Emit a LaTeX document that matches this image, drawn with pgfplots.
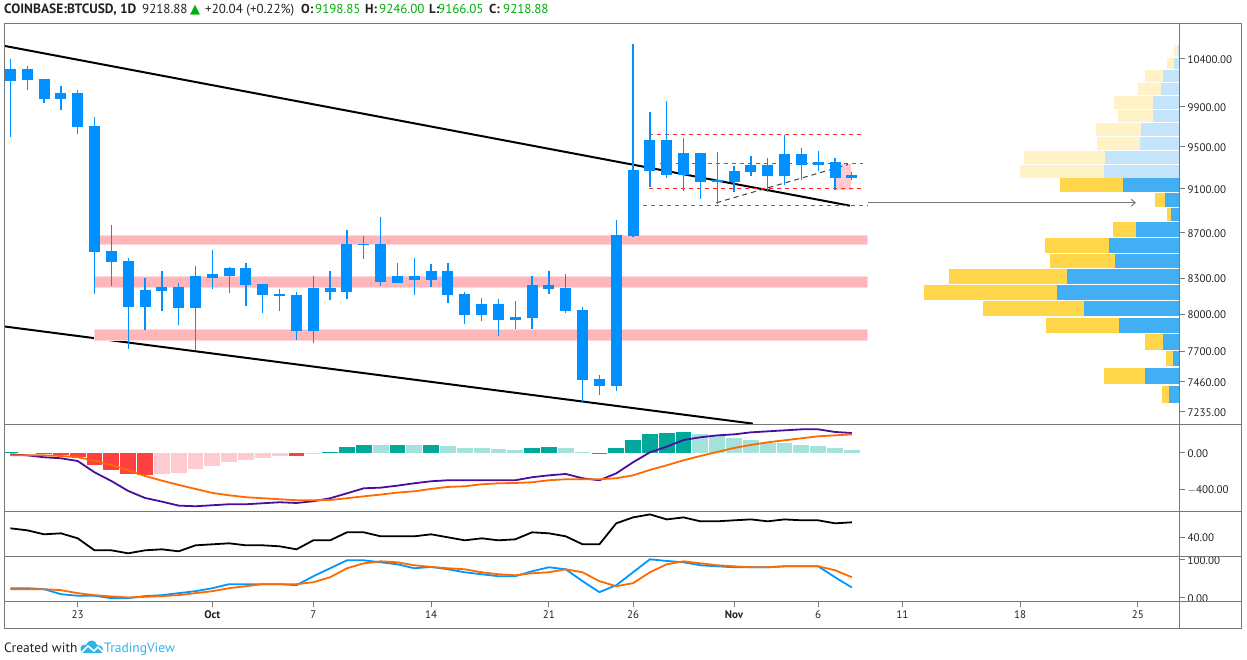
\documentclass[border=0pt]{standalone}
\usepackage{fontspec}
\usepackage{pgfplots}
\usepackage{pgfplotstable}
\pgfplotsset{compat=1.18}
\usetikzlibrary{arrows.meta}
\setmainfont{PT Sans}
\newfontfamily\symf{DejaVu Sans}
\definecolor{candle}{HTML}{0090FF}
\definecolor{frame}{HTML}{787878}
\definecolor{band}{HTML}{FFB6BA}
\definecolor{bandedge}{HTML}{FFD9DB}
\definecolor{purp}{HTML}{4A0E9E}
\definecolor{oran}{HTML}{FF6A00}
\definecolor{stochb}{HTML}{0098FF}
\definecolor{hred}{HTML}{FF4040}
\definecolor{hpink}{HTML}{FFCBD0}
\definecolor{hteal}{HTML}{00A99A}
\definecolor{hlteal}{HTML}{A6E2DC}
\definecolor{lyel}{HTML}{FFF2C6}
\definecolor{lblu}{HTML}{C3E4FA}
\definecolor{dyel}{HTML}{FFD54A}
\definecolor{dblu}{HTML}{42AFF5}
\definecolor{tvgreen}{HTML}{00AE0A}
\definecolor{tvtext}{HTML}{222222}
\definecolor{tvcyan}{HTML}{2CB6E8}

% i macd signal rsi stochk stochd
\pgfplotstableread{
i macd sig rsi k d
0 -15 -26 51.3 25.4 22.8
1 -26 -26 48.7 25.4 22.8
2 -47 -26 43.5 22.8 22.8
3 -58 -33 44.8 9.6 20.2
4 -88 -47 38.3 5.3 12.3
5 -212 -84 22.7 5.3 7.0
6 -307 -131 22.7 -0.9 3.5
7 -416 -190 18.8 -0.9 0.9
8 -493 -252 22.7 4.4 2.6
9 -533 -303 24.0 7.0 4.4
10 -577 -350 21.4 12.3 7.0
11 -584 -394 29.2 17.5 12.3
12 -573 -438 30.5 25.4 17.5
13 -562 -464 31.8 36.0 25.4
14 -562 -485 29.2 36.0 30.7
15 -551 -496 29.2 36.0 36.0
16 -540 -507 27.9 36.0 36.0
17 -548 -518 24.0 33.3 36.0
18 -529 -518 35.7 57.0 41.2
19 -496 -515 35.7 78.1 54.4
20 -442 -496 46.1 99.1 78.1
21 -387 -475 46.1 99.1 91.2
22 -380 -456 40.9 93.9 96.5
23 -358 -434 40.9 88.6 93.9
24 -332 -420 40.9 78.1 86.0
25 -310 -394 43.5 81.6 81.6
26 -299 -372 39.6 75.4 78.1
27 -299 -365 35.7 67.5 75.4
28 -299 -343 38.3 62.3 67.5
29 -299 -332 35.7 57.0 62.3
30 -299 -329 37.0 57.0 59.6
31 -266 -321 46.1 70.2 64.9
32 -245 -299 44.8 80.7 67.5
33 -230 -288 40.9 75.4 75.4
34 -277 -288 30.5 43.9 67.5
35 -299 -288 30.5 14.9 43.9
36 -223 -277 57.8 33.3 30.7
37 -102 -245 65.5 67.5 38.6
38 7 -186 69.4 101.8 67.5
39 69 -135 62.9 97.4 88.6
40 142 -80 65.5 93.9 96.5
41 172 -33 60.4 86.0 91.2
42 193 11 60.4 83.3 86.0
43 204 55 61.7 80.7 83.3
44 226 88 62.9 80.7 80.7
45 237 117 60.4 80.7 80.7
46 248 139 62.9 83.3 83.3
47 259 161 61.7 83.3 83.3
48 259 183 61.7 83.3 83.3
49 230 193 57.8 54.4 72.8
50 219 204 59.1 27.2 54.4
}\osc

% one candle: index, high, low, top of body, bottom of body
\newcommand{\cd}[5]{%
  \addplot[candle,line width=1.3pt] coordinates {(#1,#2)(#1,#3)};
  \addplot[candle,line width=11pt] coordinates {(#1,#4)(#1,#5)};
}
% volume profile row: low, high, up volume, total, colours
\newcommand{\vp}[6]{%
  \addplot[fill=#6,draw=none] coordinates {(#3,#1)(#4,#1)(#4,#2)(#3,#2)} -- cycle;
  \addplot[fill=#5,draw=none] coordinates {(0,#1)(#3,#1)(#3,#2)(0,#2)} -- cycle;
}

\pgfplotsset{
  pane/.style={
    scale only axis, width=1174.5pt,
    xmin=-0.35, xmax=69.44,
    axis line style={frame, line width=1pt},
    tick style={frame, line width=1pt},
    ytick pos=right, xtick pos=bottom, tick align=outside,
    major tick length=5.5pt,
    xtick=\empty,
    yticklabel style={font=\fontsize{11}{13}\selectfont, text=tvtext, anchor=west, inner sep=0pt, xshift=3pt, yshift=-0.7pt},
    xticklabel style={font=\fontsize{11}{13}\selectfont, text=tvtext, inner sep=0pt, yshift=-4pt},
  },
  tl/.style={line width=1.8pt},
  % the price scale is logarithmic
  logprice/.style={y coord trafo/.code={\pgfmathparse{ln(##1)}}},
}

\begin{document}
\begin{tikzpicture}[x=1pt,y=-1pt]
\path[use as bounding box] (0,0) rectangle (1247,659);

% ---- price pane
\begin{axis}[pane, logprice, at={(4.5pt,-424.5pt)}, anchor=south west, height=401pt,
  ymin=7141, ymax=10786.6,
  ytick={7235,7460,7700,8000,8300,8700,9100,9500,9900,10400},
  yticklabels={7235.00,7460.00,7700.00,8000.00,8300.00,8700.00,9100.00,9500.00,9900.00,10400.00}]
  % channel
  \addplot[black,line width=2pt] coordinates {(-0.32,10540)(49.89,8943)};
  \addplot[black,line width=2pt] coordinates {(-0.32,7898)(44.12,7147)};
  % support and resistance bands
  \addplot[fill=band,draw=bandedge,line width=1pt] coordinates {(5,8672)(50.93,8672)(50.93,8595)(5,8595)} -- cycle;
  \addplot[fill=band,draw=bandedge,line width=1pt] coordinates {(5,8315)(50.93,8315)(50.93,8225)(5,8225)} -- cycle;
  \addplot[fill=band,draw=bandedge,line width=1pt] coordinates {(5,7874)(50.93,7874)(50.93,7789)(5,7789)} -- cycle;
  \addplot[fill=hpink,draw=none] coordinates {(49,9339)(49.92,9339)(49.92,9092)(49,9092)} -- cycle;
  % dashed levels
  \addplot[red!85,line width=1pt,dash pattern=on 4pt off 4pt] coordinates {(37.94,9621)(50.69,9621)};
  \addplot[red!85,line width=1pt,dash pattern=on 4pt off 4pt] coordinates {(38.6,9343)(50.69,9343)};
  \addplot[red!85,line width=1pt,dash pattern=on 4pt off 4pt] coordinates {(37.94,9106)(50.69,9106)};
  \addplot[red!85,line width=1pt,dash pattern=on 4pt off 4pt] coordinates {(37.6,8947)(50.96,8947)};
  \addplot[black!75,line width=1pt,dash pattern=on 5pt off 4pt] coordinates {(41.95,8970)(49.77,9329)};
  \addplot[frame,line width=1pt,-{Straight Barb[length=4pt,width=7pt]}] coordinates {(50.96,8970)(66.88,8970)};
  % candles
  \cd{0}{10400}{9601}{10295}{10170}
  \cd{1}{10326}{10076}{10295}{10180}
  \cd{2}{10190}{9941}{10190}{9982}
  \cd{3}{10118}{9871}{10045}{9982}
  \cd{4}{10076}{9631}{10045}{9701}
  \cd{5}{9801}{8169}{9711}{8529}
  \cd{6}{8763}{8238}{8537}{8443}
  \cd{7}{8477}{7719}{8452}{8061}
  \cd{8}{8306}{7874}{8204}{8061}
  \cd{9}{8358}{8028}{8229}{8195}
  \cd{10}{8263}{7914}{8229}{8053}
  \cd{11}{8409}{7711}{8315}{8053}
  \cd{12}{8546}{8212}{8332}{8306}
  \cd{13}{8400}{8178}{8392}{8323}
  \cd{14}{8435}{8069}{8392}{8246}
  \cd{15}{8255}{8012}{8255}{8161}
  \cd{16}{8212}{8028}{8169}{8152}
  \cd{17}{8186}{7793}{8161}{7866}
  \cd{18}{8323}{7768}{8221}{7866}
  \cd{19}{8358}{8118}{8221}{8186}
  \cd{20}{8726}{8127}{8600}{8186}
  \cd{21}{8672}{8469}{8600}{8591}
  \cd{22}{8844}{8238}{8600}{8272}
  \cd{23}{8435}{8263}{8323}{8263}
  \cd{24}{8477}{8161}{8323}{8289}
  \cd{25}{8426}{8229}{8366}{8289}
  \cd{26}{8435}{8094}{8366}{8161}
  \cd{27}{8186}{7922}{8169}{7996}
  \cd{28}{8135}{7947}{8085}{7996}
  \cd{29}{8127}{7825}{8085}{7955}
  \cd{30}{8110}{7882}{7979}{7955}
  \cd{31}{8323}{7882}{8246}{7971}
  \cd{32}{8366}{8169}{8246}{8212}
  \cd{33}{8332}{8012}{8221}{8028}
  \cd{34}{8061}{7302}{8037}{7479}
  \cd{35}{7518}{7364}{7487}{7433}
  \cd{36}{8817}{7394}{8681}{7433}
  \cd{37}{10560}{8663}{9282}{8672}
  \cd{38}{9851}{9121}{9571}{9272}
  \cd{39}{9961}{9197}{9571}{9234}
  \cd{40}{9591}{9083}{9443}{9234}
  \cd{41}{9443}{9006}{9443}{9168}
  \cd{42}{9452}{8961}{9178}{9159}
  \cd{43}{9320}{9073}{9272}{9168}
  \cd{44}{9414}{9225}{9329}{9263}
  \cd{45}{9395}{9073}{9329}{9216}
  \cd{46}{9621}{9140}{9433}{9216}
  \cd{47}{9491}{9187}{9433}{9329}
  \cd{48}{9462}{9272}{9357}{9329}
  \cd{49}{9395}{9092}{9357}{9206}
  \cd{50}{9263}{9187}{9234}{9206}
\end{axis}

% ---- volume profile, on the same price scale
\begin{axis}[logprice, scale only axis, width=1174.5pt, height=401pt, at={(4.5pt,-424.5pt)}, anchor=south west,
  hide axis, x dir=reverse, xmin=-0.5, xmax=1174, ymin=7141, ymax=10786.6]
  \vp{10418}{10550}{0.7}{4.3}{lblu}{lyel}
  \vp{10291}{10410}{4.7}{11.7}{lblu}{lyel}
  \vp{10158}{10283}{15.3}{33.7}{lblu}{lyel}
  \vp{10021}{10149}{18}{40.3}{lblu}{lyel}
  \vp{9881}{10014}{26}{64.7}{lblu}{lyel}
  \vp{9751}{9871}{25.7}{61}{lblu}{lyel}
  \vp{9611}{9741}{37.3}{82.3}{lblu}{lyel}
  \vp{9471}{9601}{39}{81.3}{lblu}{lyel}
  \vp{9339}{9462}{73.3}{154.3}{lblu}{lyel}
  \vp{9206}{9329}{74.7}{158.3}{lblu}{lyel}
  \vp{9073}{9197}{55.3}{119}{dblu}{dyel}
  \vp{8934}{9064}{13.7}{23.3}{dblu}{dyel}
  \vp{8799}{8925}{7.7}{11.7}{dblu}{dyel}
  \vp{8663}{8790}{42.7}{65.7}{dblu}{dyel}
  \vp{8520}{8654}{69.7}{134}{dblu}{dyel}
  \vp{8392}{8512}{63.7}{128.3}{dblu}{dyel}
  \vp{8255}{8383}{111.7}{229.7}{dblu}{dyel}
  \vp{8118}{8246}{121.7}{254.3}{dblu}{dyel}
  \vp{7982}{8110}{94.7}{196}{dblu}{dyel}
  \vp{7850}{7971}{60}{132.3}{dblu}{dyel}
  \vp{7711}{7841}{15.7}{33.7}{dblu}{dyel}
  \vp{7580}{7703}{5.7}{12.3}{dblu}{dyel}
  \vp{7441}{7572}{33.7}{74.3}{dblu}{dyel}
  \vp{7302}{7433}{9.7}{16.7}{dblu}{dyel}
\end{axis}

% ---- MACD
\begin{axis}[pane, at={(4.5pt,-511pt)}, anchor=south west, height=86.5pt,
  ymin=-636, ymax=312, ytick={-400,0}, yticklabels={$-$400.00,0.00}]
  \addplot[ycomb,line width=15.8pt,hteal] coordinates {(0,7)(19,11)(20,66)(21,88)(23,88)(25,88)(31,55)(32,66)(36,55)(37,142)(38,208)(39,219)(40,230)};
  \addplot[ycomb,line width=15.8pt,hlteal] coordinates {(22,88)(24,88)(26,77)(27,55)(28,55)(29,44)(30,33)(33,55)(34,11)(41,208)(42,186)(43,164)(44,142)(45,110)(46,110)(47,88)(48,77)(49,55)(50,33)};
  \addplot[ycomb,line width=15.8pt,hred] coordinates {(2,-7)(3,-22)(4,-44)(5,-131)(6,-186)(7,-230)(8,-241)(17,-33)(35,-11)};
  \addplot[ycomb,line width=15.8pt,hpink] coordinates {(9,-230)(10,-219)(11,-175)(12,-142)(13,-99)(14,-77)(15,-55)(16,-33)(18,-11)};
  \addplot[purp,tl] table[x=i,y=macd]{\osc};
  \addplot[oran,tl] table[x=i,y=sig]{\osc};
\end{axis}

% ---- RSI
\begin{axis}[pane, at={(4.5pt,-556pt)}, anchor=south west, height=45pt,
  ymin=15.3, ymax=73.8, ytick={40}, yticklabels={40.00}]
  \addplot[black,tl] table[x=i,y=rsi]{\osc};
\end{axis}

% ---- Stochastic RSI and the time axis
\begin{axis}[pane, at={(4.5pt,-601pt)}, anchor=south west, height=45pt,
  ymin=-8.5, ymax=110.5, ytick={0,100}, yticklabels={0.00,100.00},
  xtick={4,12,18,25,32,37,43,48,53,60,67},
  xticklabels={23,\textbf{Oct},7,14,21,26,\textbf{Nov},6,11,18,25}]
  \addplot[stochb,tl] table[x=i,y=k]{\osc};
  \addplot[oran,tl] table[x=i,y=d]{\osc};
\end{axis}

% ---- frame
\draw[frame,line width=1pt] (4.5,23.5) rectangle (1241.5,628);
\draw[frame,line width=1pt] (1179,23.5) -- (1179,628);
\foreach \yy in {424.5,511,556,601} \draw[frame,line width=1pt] (1179,\yy) -- (1241.5,\yy);

% ---- header
\begin{scope}[every node/.style={anchor=base west,inner sep=0pt,font=\fontsize{13}{15}\selectfont,text=tvtext}]
\node[font=\fontsize{13.5}{15}\selectfont] at (4,13) {\textbf{COINBASE:BTCUSD, 1D}};
\node at (142,13) {9218.88};
\node[text=tvgreen,font=\symf\fontsize{13}{15}\selectfont] at (190,13) {▲};
\node at (205,13) {+20.04 (+0.22\%)};
\node at (301,13) {\textbf{O:}};
\node[text=tvgreen] at (315,13) {9198.85};
\node at (365,13) {\textbf{H:}};
\node[text=tvgreen] at (379,13) {9246.00};
\node at (429,13) {\textbf{L:}};
\node[text=tvgreen] at (438,13) {9166.05};
\node at (489,13) {\textbf{C:}};
\node[text=tvgreen] at (503,13) {9218.88};
\node[font=\fontsize{13.5}{15}\selectfont] at (4,652) {Created with};
\node[text=tvcyan,font=\fontsize{13.5}{15}\selectfont] at (104,652) {TradingView};
\end{scope}
% logo
\fill[tvcyan] (81,651) .. controls (79,646) and (83,644) .. (86,645) .. controls (88,639) and (96,639) .. (97,645) .. controls (102,645) and (105,649) .. (102,653) -- (84,653) .. controls (82,653) and (81,652) .. (81,651) -- cycle;
\draw[white,line width=1.6pt] (82,652) -- (88,646) -- (94,651) -- (98,647) -- (103,652);
\end{tikzpicture}
\end{document}
